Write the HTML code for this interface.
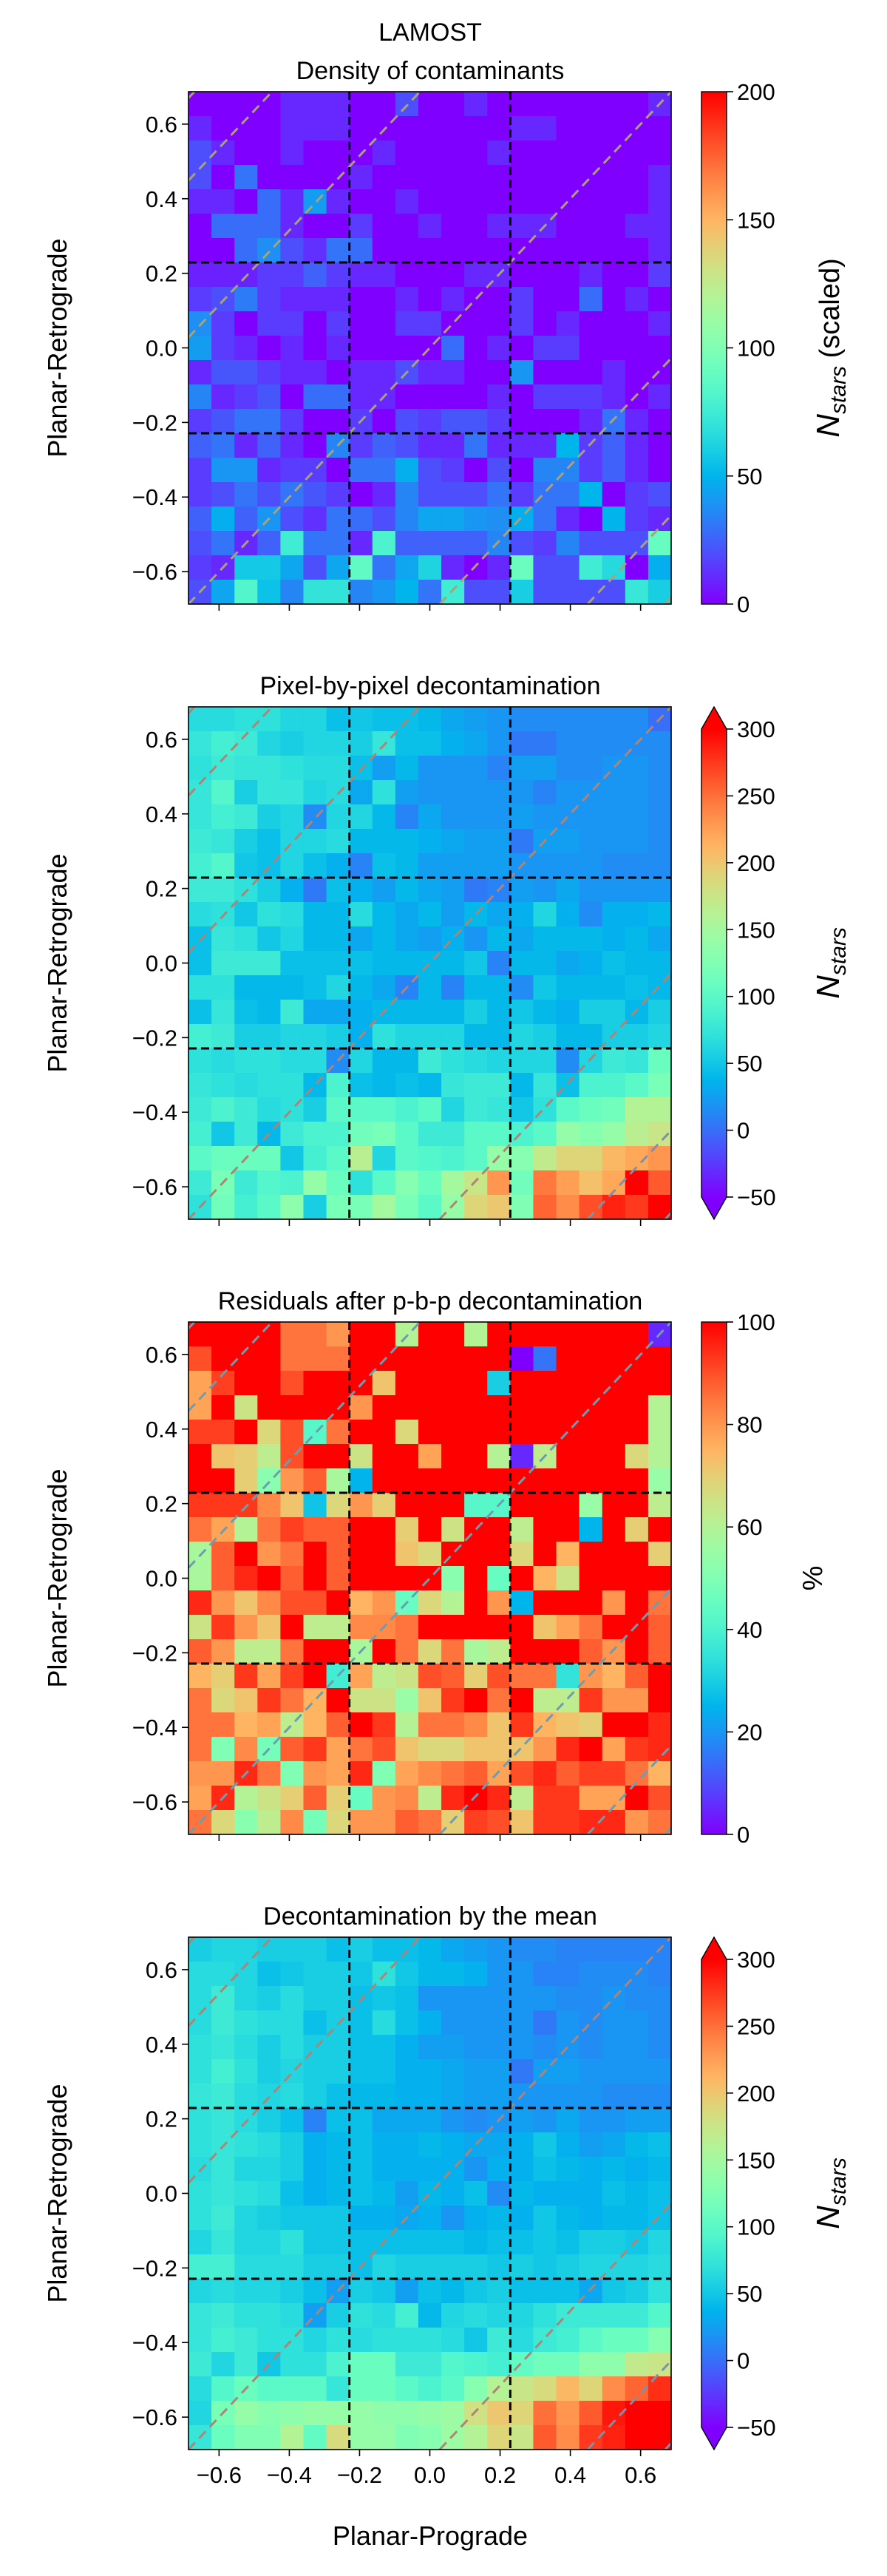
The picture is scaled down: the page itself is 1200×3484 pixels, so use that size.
<!DOCTYPE html>
<html><head><meta charset="utf-8">
<style>
html,body{margin:0;padding:0;background:#fff;width:1200px;height:3484px;overflow:hidden;}
svg{display:block;font-family:"Liberation Sans",sans-serif;}
</style></head>
<body>
<svg id="fig" width="1200" height="3484" viewBox="0 0 1200 3484" xmlns="http://www.w3.org/2000/svg"></svg>
<script>
// ---------- DATA ----------
const xTickValues = [-0.6,-0.4,-0.2,0.0,0.2,0.4,0.6];
const yTickValues = [0.6,0.4,0.2,0.0,-0.2,-0.4,-0.6];
const tickLabels = ["\u22120.6","\u22120.4","\u22120.2","0.0","0.2","0.4","0.6"];
const diagOffsets = [1.357,1.136,0.715,0,-0.715,-1.136,-1.357];
const boxLines = [-0.229,0.229];
const panelTitles = [["LAMOST","Density of contaminants"],["Pixel-by-pixel decontamination"],["Residuals after p-b-p decontamination"],["Decontamination by the mean"]];
const cbarMin = [0,-50,0,-50];
const cbarMax = [200,300,100,300];
const cbarTicks1 = [0,50,100,150,200];
const cbarTicks2 = [-50,0,50,100,150,200,250,300];
const cbarTicks3 = [0,20,40,60,80,100];
const cbarTicks4 = [-50,0,50,100,150,200,250,300];

const contaminants = [
[0,0,0,0,10,10,10,0,0,20,0,0,10,0,0,0,0,0,0,0,10],
[10,0,0,0,10,10,10,0,0,0,0,0,0,0,10,10,0,0,0,0,0],
[20,10,0,0,10,0,0,0,10,0,0,0,0,10,0,0,0,0,0,0,0],
[20,0,30,0,0,0,0,10,0,0,0,0,0,0,0,0,0,0,0,0,10],
[10,10,0,28,10,42,10,0,0,10,0,0,0,0,0,0,0,0,0,0,10],
[0,28,28,28,10,0,0,15,0,0,10,0,0,10,10,10,0,0,0,10,10],
[0,0,28,38,20,12,30,28,0,0,0,0,0,0,0,0,0,0,0,0,10],
[8,8,8,15,15,25,15,10,10,0,0,0,10,10,0,0,0,10,0,0,15],
[15,20,32,15,10,10,10,0,0,10,0,10,0,0,15,0,0,28,0,10,0],
[38,15,0,15,15,0,15,0,0,15,15,0,0,0,15,0,10,0,0,0,10],
[42,15,10,0,10,0,10,0,0,0,0,28,0,10,0,15,15,0,0,0,0],
[10,22,22,15,10,10,0,10,10,20,10,10,0,0,40,0,0,0,10,0,0],
[35,10,15,22,0,28,28,10,10,0,0,0,0,10,0,15,15,15,10,0,10],
[15,22,30,30,15,0,0,15,0,20,15,22,22,15,0,0,0,10,30,10,0],
[25,30,10,25,10,0,35,15,25,20,10,10,30,10,10,10,50,15,25,10,0],
[15,40,40,10,15,15,0,30,30,48,20,15,0,20,0,35,35,15,25,10,0],
[15,20,30,20,30,22,15,0,10,35,20,20,20,30,15,30,30,50,0,15,20],
[25,48,25,40,20,12,30,28,20,35,45,45,40,38,48,30,10,0,50,15,10],
[20,30,10,25,75,30,30,10,80,25,25,25,25,35,20,15,35,20,20,20,90],
[15,10,58,58,45,20,45,88,30,45,62,10,0,10,92,20,20,75,65,0,48],
[20,45,82,55,35,70,70,35,40,50,30,75,20,20,60,20,20,20,20,72,60]];

const pixelDecont = [
[65,65,70,70,60,60,45,50,45,45,40,30,25,20,15,15,15,15,15,15,0],
[75,85,80,60,55,60,60,55,75,45,45,35,30,20,5,5,15,15,15,15,15],
[70,80,75,75,70,65,65,45,25,40,20,20,20,10,25,25,15,15,20,20,15],
[75,95,55,75,75,60,65,30,70,25,20,20,20,20,20,10,20,20,20,20,15],
[75,85,80,55,60,15,60,60,40,10,30,20,20,20,25,20,20,20,20,20,15],
[80,75,55,45,60,60,65,40,40,40,35,30,25,25,5,25,25,20,20,20,15],
[85,95,50,45,60,45,35,10,45,40,25,25,25,25,20,20,20,20,15,15,15],
[80,80,70,55,35,5,45,35,25,40,30,25,5,10,25,20,30,20,20,20,20],
[65,70,50,70,65,40,40,65,40,30,40,25,40,30,35,60,35,15,35,35,40],
[45,75,70,50,60,40,40,30,40,30,25,35,20,40,30,40,40,40,35,40,30],
[45,80,80,80,45,45,45,45,40,40,40,40,50,10,40,40,30,35,45,40,40],
[70,70,40,40,40,45,60,40,30,10,40,10,40,40,15,50,40,40,40,45,40],
[45,75,45,40,80,30,30,35,40,40,40,40,55,40,50,40,35,55,55,40,55],
[85,80,55,55,60,60,55,35,70,60,60,60,40,40,60,55,40,40,55,55,60],
[70,65,70,70,65,65,15,60,40,40,80,70,65,60,60,60,15,60,80,75,110],
[75,70,65,70,70,40,90,45,40,45,40,75,80,80,40,75,45,90,90,100,120],
[80,90,80,65,70,55,100,100,100,90,100,60,80,75,50,70,100,110,115,160,160],
[85,50,80,40,80,90,90,115,120,100,80,80,100,100,90,100,140,130,140,165,175],
[100,110,110,110,50,85,100,165,60,100,95,90,100,140,130,170,190,190,210,220,230],
[80,120,80,95,90,140,110,70,100,130,110,150,175,230,115,245,225,205,220,300,260],
[70,115,85,100,135,55,120,120,150,120,100,140,190,200,125,255,235,265,285,275,300]];

const residuals = [
[100,100,100,100,85,85,80,100,100,60,100,100,60,100,100,100,100,100,100,100,5],
[90,100,100,100,85,85,85,100,100,100,100,100,100,100,0,15,100,100,100,100,100],
[78,92,100,100,90,100,100,100,72,100,100,100,100,30,100,100,100,100,100,100,100],
[78,100,65,100,100,100,100,80,100,100,100,100,100,100,100,100,100,100,100,100,60],
[92,92,100,68,90,42,85,100,100,68,100,100,100,100,100,100,100,100,100,100,60],
[100,72,70,62,90,100,100,65,100,100,78,100,100,60,5,62,100,100,100,68,60],
[100,100,70,52,80,88,58,25,100,100,100,100,100,100,100,100,100,100,100,100,55],
[93,93,93,82,72,28,68,80,70,100,100,100,42,42,100,100,100,55,100,100,62],
[85,78,60,85,92,88,88,100,100,70,100,65,100,100,62,100,100,25,100,70,100],
[58,88,100,80,85,100,88,100,100,72,68,100,100,100,68,100,75,100,100,100,70],
[58,88,95,100,88,100,88,100,100,100,100,52,100,45,100,75,65,100,100,100,100],
[95,80,72,82,90,90,100,75,80,45,68,60,100,80,25,100,100,100,80,100,85],
[65,93,80,72,100,62,62,82,82,85,100,100,100,100,100,72,78,85,100,100,88],
[88,80,62,62,85,100,100,58,100,85,68,85,58,62,100,100,100,88,80,100,88],
[75,70,93,78,92,100,38,78,62,65,90,88,70,90,85,85,35,80,75,88,100],
[85,68,72,93,85,75,100,65,65,55,72,93,100,85,100,62,62,93,80,80,100],
[85,85,75,78,62,75,88,100,93,60,85,85,82,72,93,75,72,70,100,100,95],
[85,50,82,48,88,93,78,85,90,72,68,68,72,72,72,80,95,100,78,93,95],
[80,80,95,85,50,80,78,95,50,78,82,85,88,78,90,95,88,92,92,85,75],
[78,95,60,65,70,88,70,45,80,82,62,95,100,95,62,93,93,78,78,100,90],
[85,68,52,62,82,48,68,80,80,88,85,70,92,90,72,93,93,95,95,80,85]];

const meanDecont = [
[55,60,60,55,55,55,45,55,45,45,40,30,25,20,15,15,10,10,10,10,10],
[65,65,60,45,50,55,55,50,70,50,40,40,35,20,20,10,10,15,15,15,10],
[65,80,60,55,65,55,55,45,50,45,20,20,20,20,20,20,15,15,20,15,15],
[65,80,70,65,65,45,55,45,65,45,35,20,20,20,20,5,20,15,20,20,15],
[70,75,65,55,65,55,55,45,45,35,25,25,20,20,20,15,20,15,20,20,15],
[70,85,70,55,60,55,55,45,45,35,35,30,25,25,5,25,25,20,20,20,20],
[75,80,65,60,65,55,45,40,40,35,35,30,25,25,20,20,20,20,15,15,15],
[70,75,65,55,45,10,45,45,30,30,30,20,15,20,25,20,30,20,20,25,25],
[70,75,70,65,55,35,40,45,35,35,40,35,30,30,35,50,35,25,30,40,45],
[65,75,60,60,55,35,40,45,35,35,35,35,20,35,35,45,40,35,40,35,40],
[70,75,70,65,45,35,40,45,40,25,40,35,45,15,40,35,35,35,45,40,45],
[70,80,60,55,50,50,50,35,35,30,35,20,35,40,35,50,40,35,40,40,45],
[60,75,60,60,70,50,50,45,45,45,45,45,40,45,45,50,45,55,55,50,60],
[85,85,65,65,65,55,55,45,60,55,55,55,55,50,55,50,55,60,60,60,65],
[60,65,60,60,55,45,25,55,50,25,45,40,50,55,45,45,45,30,50,55,70],
[75,80,70,70,65,25,55,70,65,85,40,60,65,60,60,70,80,80,80,80,95],
[75,85,80,70,70,60,70,65,70,70,70,65,50,80,65,80,85,100,110,110,130],
[80,60,80,50,70,70,90,110,110,80,80,95,90,85,105,115,115,135,135,170,175],
[65,95,110,100,100,100,75,110,110,100,90,100,130,160,175,185,210,190,235,255,280],
[60,120,140,130,135,140,140,140,135,135,140,145,180,200,190,250,230,260,290,300,300],
[75,110,125,125,160,105,185,140,140,125,130,145,160,190,175,260,235,275,285,300,300]];

// ---------- GEOMETRY ----------
const NS = "http://www.w3.org/2000/svg";
const svg = document.getElementById('fig');
const PL = 255, PW = 653, PH = 693, LIM = 0.687;
const panelTops = [124, 956, 1788, 2620];
const CBX = 949, CBW = 34;
function xs(v){ return PL + (v + LIM) / (2*LIM) * PW; }
function ys(top, v){ return top + (LIM - v) / (2*LIM) * PH; }
function rainbow(t){
  t = Math.max(0, Math.min(1, t));
  const r = Math.min(1, Math.abs(2*t - 0.5));
  const g = Math.sin(Math.PI*t);
  const b = Math.cos(Math.PI*t/2);
  return 'rgb(' + Math.round(r*255) + ',' + Math.round(g*255) + ',' + Math.round(Math.max(0,b)*255) + ')';
}
function mk(tag, attrs, parent){
  const e = document.createElementNS(NS, tag);
  for (const k in attrs) e.setAttribute(k, attrs[k]);
  (parent || svg).appendChild(e);
  return e;
}

const datasets = [contaminants, pixelDecont, residuals, meanDecont];
const cbTickSets = [cbarTicks1, cbarTicks2, cbarTicks3, cbarTicks4];
const diagColorsHi = ["#a8a276","#b08474","#6c9eb0","#b08474"];
const diagColorsLo = ["#a8a276","#7f90a8","#6c9eb0","#7f90a8"];
const extended = [false, true, false, true];

const defs = mk('defs', {});
const grad = mk('linearGradient', {id:'rb', x1:'0', y1:'1', x2:'0', y2:'0'}, defs);
for (let i = 0; i <= 20; i++) {
  mk('stop', {offset: (i/20).toFixed(3), 'stop-color': rainbow(i/20)}, grad);
}

for (let p = 0; p < 4; p++) {
  const top = panelTops[p];
  const data = datasets[p];
  const vmin = cbarMin[p], vmax = cbarMax[p];
  const g = mk('g', {});
  
  

  const tl = panelTitles[p];
  for (let i = 0; i < tl.length; i++) {
    const t = mk('text', {x: 582, y: top - 17 - (tl.length - 1 - i) * 52, 'text-anchor':'middle', 'font-size': 34, fill:'#000'}, g);
    t.textContent = tl[i];
    
    
  }

  const hm = mk('g', {}, g);
  
  
  const nr = data.length, nc = data[0].length;
  const dx = 2*LIM / nc, dy = 2*LIM / nr;
  for (let r = 0; r < nr; r++) {
    for (let c = 0; c < nc; c++) {
      const x0 = xs(-LIM + c*dx), x1 = xs(-LIM + (c+1)*dx);
      const y0 = ys(top, LIM - r*dy), y1 = ys(top, LIM - (r+1)*dy);
      const w = Math.min(x1 - x0 + 0.6, PL + PW - x0);
      const h = Math.min(y1 - y0 + 0.6, top + PH - y0);
      const cell = mk('rect', {x: x0.toFixed(2), y: y0.toFixed(2), width: w.toFixed(2), height: h.toFixed(2), fill: rainbow((data[r][c]-vmin)/(vmax-vmin))}, hm);
      
      
    }
  }

  const lines = mk('g', {}, g);
  for (const c of diagOffsets) {
    const xa = Math.max(-LIM, -LIM - c), xb = Math.min(LIM, LIM - c);
    if (xb <= xa) continue;
    const ln = mk('line', {x1: xs(xa), y1: ys(top, xa + c), x2: xs(xb), y2: ys(top, xb + c), stroke: c < -1 ? diagColorsLo[p] : diagColorsHi[p], 'stroke-width': 3, 'stroke-dasharray': '13 8'}, lines);
    
    
  }
  for (const v of boxLines) {
    const lv = mk('line', {x1: xs(v), y1: top, x2: xs(v), y2: top + PH, stroke:'#000', 'stroke-width': 3, 'stroke-dasharray': '11 6'}, lines);
    
    
    const lh = mk('line', {x1: PL, y1: ys(top, v), x2: PL + PW, y2: ys(top, v), stroke:'#000', 'stroke-width': 3, 'stroke-dasharray': '11 6'}, lines);
    
    
  }
  const fr = mk('rect', {x: PL, y: top, width: PW, height: PH, fill:'none', stroke:'#000', 'stroke-width': 1.6}, g);
  
  

  for (let i = 0; i < yTickValues.length; i++) {
    const y = ys(top, yTickValues[i]);
    mk('line', {x1: PL - 9, y1: y, x2: PL, y2: y, stroke:'#000', 'stroke-width': 1.6}, g);
    const t = mk('text', {x: PL - 15, y: y + 11, 'text-anchor':'end', 'font-size': 31, fill:'#000'}, g);
    t.textContent = tickLabels[6 - i];
    
    
  }
  for (let i = 0; i < xTickValues.length; i++) {
    const x = xs(xTickValues[i]);
    mk('line', {x1: x, y1: top + PH, x2: x, y2: top + PH + 9, stroke:'#000', 'stroke-width': 1.6}, g);
    if (p === 3) {
      const t = mk('text', {x: x, y: top + PH + 45, 'text-anchor':'middle', 'font-size': 31, fill:'#000'}, g);
      t.textContent = tickLabels[i];
      
      
    }
  }
  const yt = mk('text', {transform: 'translate(90,' + (top + PH/2) + ') rotate(-90)', 'text-anchor':'middle', 'font-size': 36, fill:'#000'}, g);
  yt.textContent = 'Planar-Retrograde';
  
  

  let cbTop = top, cbBot = top + PH;
  if (extended[p]) { cbTop = top + 30; cbBot = top + PH - 30; }
  const cb = mk('g', {}, g);
  
  
  mk('rect', {x: CBX, y: cbTop, width: CBW, height: cbBot - cbTop, fill: 'url(#rb)'}, cb);
  if (extended[p]) {
    mk('polygon', {points: CBX + ',' + cbTop + ' ' + (CBX + CBW) + ',' + cbTop + ' ' + (CBX + CBW/2) + ',' + top, fill: rainbow(1)}, cb);
    mk('polygon', {points: CBX + ',' + cbBot + ' ' + (CBX + CBW) + ',' + cbBot + ' ' + (CBX + CBW/2) + ',' + (top + PH), fill: rainbow(0)}, cb);
    mk('polygon', {points: CBX + ',' + cbTop + ' ' + (CBX + CBW/2) + ',' + top + ' ' + (CBX + CBW) + ',' + cbTop + ' ' + (CBX + CBW) + ',' + cbBot + ' ' + (CBX + CBW/2) + ',' + (top + PH) + ' ' + CBX + ',' + cbBot, fill:'none', stroke:'#000', 'stroke-width': 1.4}, cb);
  } else {
    mk('rect', {x: CBX, y: cbTop, width: CBW, height: cbBot - cbTop, fill:'none', stroke:'#000', 'stroke-width': 1.4}, cb);
  }
  const ticks = cbTickSets[p];
  for (const v of ticks) {
    const y = cbBot - (v - vmin) / (vmax - vmin) * (cbBot - cbTop);
    mk('line', {x1: CBX + CBW, y1: y, x2: CBX + CBW + 9, y2: y, stroke:'#000', 'stroke-width': 1.6}, cb);
    const t = mk('text', {x: CBX + CBW + 14, y: y + 11, 'font-size': 31, fill:'#000'}, cb);
    t.textContent = v < 0 ? '\u2212' + Math.abs(v) : String(v);
    
    
  }
  const lx = p === 2 ? 1112 : 1135;
  const cl = mk('text', {transform: 'translate(' + lx + ',' + (top + PH/2) + ') rotate(-90)', 'text-anchor':'middle', 'font-size': 38, fill:'#000'}, cb);
  
  
  if (p === 2) {
    cl.textContent = '%';
  } else {
    const n = mk('tspan', {'font-style':'italic', 'font-size': 44}, cl); n.textContent = 'N';
    const s = mk('tspan', {'font-style':'italic', 'font-size': 30, dy: 9}, cl); s.textContent = 'stars';
    if (p === 0) { const r = mk('tspan', {dy: -9}, cl); r.textContent = ' (scaled)'; }
  }
}
const xt = mk('text', {x: 582, y: 3442, 'text-anchor':'middle', 'font-size': 36, fill:'#000'});
xt.textContent = 'Planar-Prograde';


</script>
</body></html>
